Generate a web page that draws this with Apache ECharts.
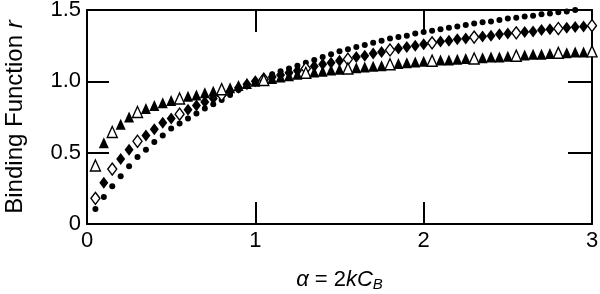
<!DOCTYPE html>
<html>
<head>
<meta charset="utf-8">
<script src="https://cdn.jsdelivr.net/npm/echarts@6/dist/echarts.min.js"></script>
<style>
  html, body { margin: 0; padding: 0; background: #fff; }
  #chart { width: 600px; height: 294px; }
</style>
</head>
<body>
<div id="chart"></div>
<script>
// alpha = 2kC_B, sampled every 0.05
const alpha = [
  0.05, 0.10, 0.15, 0.20, 0.25, 0.30, 0.35, 0.40, 0.45, 0.50,
  0.55, 0.60, 0.65, 0.70, 0.75, 0.80, 0.85, 0.90, 0.95, 1.00,
  1.05, 1.10, 1.15, 1.20, 1.25, 1.30, 1.35, 1.40, 1.45, 1.50,
  1.55, 1.60, 1.65, 1.70, 1.75, 1.80, 1.85, 1.90, 1.95, 2.00,
  2.05, 2.10, 2.15, 2.20, 2.25, 2.30, 2.35, 2.40, 2.45, 2.50,
  2.55, 2.60, 2.65, 2.70, 2.75, 2.80, 2.85, 2.90, 2.95, 3.00
]

const rTriangle = [
  0.41, 0.57, 0.645, 0.70, 0.75, 0.785, 0.81, 0.83, 0.85, 0.865,
  0.88, 0.895, 0.905, 0.92, 0.93, 0.945, 0.955, 0.97, 0.985, 1.0,
  1.01, 1.02, 1.03, 1.04, 1.05, 1.06, 1.065, 1.07, 1.08, 1.085,
  1.09, 1.095, 1.10, 1.105, 1.11, 1.12, 1.125, 1.13, 1.135, 1.14,
  1.145, 1.15, 1.15, 1.155, 1.16, 1.16, 1.165, 1.17, 1.17, 1.175,
  1.18, 1.185, 1.19, 1.19, 1.195, 1.20, 1.20, 1.205, 1.205, 1.21
]

const rDiamond = [
  0.18, 0.29, 0.385, 0.455, 0.52, 0.58, 0.62, 0.665, 0.71, 0.74,
  0.77, 0.80, 0.83, 0.855, 0.88, 0.905, 0.93, 0.955, 0.98, 1.0,
  1.015, 1.03, 1.045, 1.06, 1.075, 1.09, 1.105, 1.12, 1.13, 1.145,
  1.155, 1.17, 1.18, 1.195, 1.205, 1.22, 1.23, 1.24, 1.25, 1.26,
  1.27, 1.28, 1.285, 1.295, 1.30, 1.31, 1.315, 1.32, 1.33, 1.335,
  1.34, 1.345, 1.35, 1.36, 1.365, 1.37, 1.375, 1.38, 1.385, 1.39
]

const rDot = [
  0.105, 0.19, 0.265, 0.335, 0.405, 0.47, 0.52, 0.575, 0.62, 0.67,
  0.705, 0.74, 0.775, 0.81, 0.84, 0.87, 0.905, 0.94, 0.97, 1.0,
  1.025, 1.05, 1.07, 1.09, 1.11, 1.13, 1.15, 1.17, 1.19, 1.21,
  1.225, 1.24, 1.255, 1.27, 1.285, 1.30, 1.31, 1.32, 1.335, 1.345,
  1.355, 1.365, 1.375, 1.385, 1.395, 1.405, 1.415, 1.42, 1.43, 1.44,
  1.445, 1.455, 1.46, 1.47, 1.475, 1.485, 1.49, 1.50, 1.505, 1.51
]

// alphas drawn with hollow markers
const openAlpha = [0.05, 0.15, 0.30, 0.55, 0.80, 1.05, 1.30, 1.55, 1.80, 2.05, 2.30, 2.55, 2.80, 3.00]

const xTicks = [0, 1, 2, 3]
const yTicks = [0, 0.5, 1.0, 1.5]

const FONT = 'Liberation Sans, Arial, sans-serif'

const toPoints = (ys, hollow) =>
  alpha.map((a, i) => {
    const p = { value: [a, ys[i]] }
    if (hollow && openAlpha.some((o) => Math.abs(o - a) < 1e-6)) {
      p.itemStyle = { color: '#fff', borderColor: '#000', borderWidth: 1.4 }
    }
    return p
  })

const chart = echarts.init(document.getElementById('chart'))

const frameAxis = {
  min: 0,
  axisLine: { show: true, onZero: false, lineStyle: { color: '#000', width: 2 } },
  axisTick: { show: true, inside: true, length: 22, lineStyle: { color: '#000', width: 2 } },
  splitLine: { show: false }
}

chart.setOption({
  animation: false,
  backgroundColor: '#fff',
  grid: { left: 87, right: 8, top: 10, bottom: 70, outerBoundsMode: 'none', containLabel: false },
  xAxis: [
    {
      ...frameAxis,
      type: 'value',
      position: 'bottom',
      max: 3,
      interval: 1,
      axisLabel: {
        color: '#000', fontFamily: FONT, fontSize: 22, margin: 6,
        formatter: (v) => (xTicks.includes(v) ? String(v) : '')
      },
      name: '{i|α} = 2{i|kC}{s|B}',
      nameLocation: 'middle',
      nameGap: 44,
      nameTextStyle: {
        color: '#000', fontFamily: FONT, fontSize: 22,
        rich: {
          i: { fontStyle: 'italic', fontFamily: FONT, fontSize: 22, color: '#000' },
          s: { fontStyle: 'italic', fontFamily: FONT, fontSize: 15, color: '#000', padding: [9, 0, 0, 0] }
        }
      }
    },
    {
      ...frameAxis,
      type: 'value',
      position: 'top',
      max: 3,
      interval: 1,
      axisLabel: { show: false }
    }
  ],
  yAxis: [
    {
      ...frameAxis,
      type: 'value',
      position: 'left',
      max: 1.5,
      interval: 0.5,
      axisLabel: {
        color: '#000', fontFamily: FONT, fontSize: 22, margin: 6,
        formatter: (v) => (yTicks.includes(v) ? (v === 0 ? '0' : v.toFixed(1)) : '')
      },
      name: 'Binding Function {i|r}',
      nameLocation: 'middle',
      nameGap: 60,
      nameTextStyle: {
        color: '#000', fontFamily: FONT, fontSize: 24,
        rich: {
          i: { fontStyle: 'italic', fontFamily: FONT, fontSize: 24, color: '#000' }
        }
      }
    },
    {
      ...frameAxis,
      type: 'value',
      position: 'right',
      max: 1.5,
      interval: 0.5,
      axisTick: { show: true, inside: true, length: 24, lineStyle: { color: '#000', width: 2 } },
      axisLabel: { show: false }
    }
  ],
  series: [
    {
      type: 'scatter',
      name: 'dots',
      data: toPoints(rDot, false),
      symbol: 'circle',
      symbolSize: 6,
      itemStyle: { color: '#000', opacity: 1 }
    },
    {
      type: 'scatter',
      name: 'diamonds',
      data: toPoints(rDiamond, true),
      symbol: 'diamond',
      symbolSize: [9, 12],
      itemStyle: { color: '#000', opacity: 1 }
    },
    {
      type: 'scatter',
      name: 'triangles',
      data: toPoints(rTriangle, true),
      symbol: 'triangle',
      symbolSize: [10, 11],
      itemStyle: { color: '#000', opacity: 1 }
    }
  ]
})
</script>
</body>
</html>
